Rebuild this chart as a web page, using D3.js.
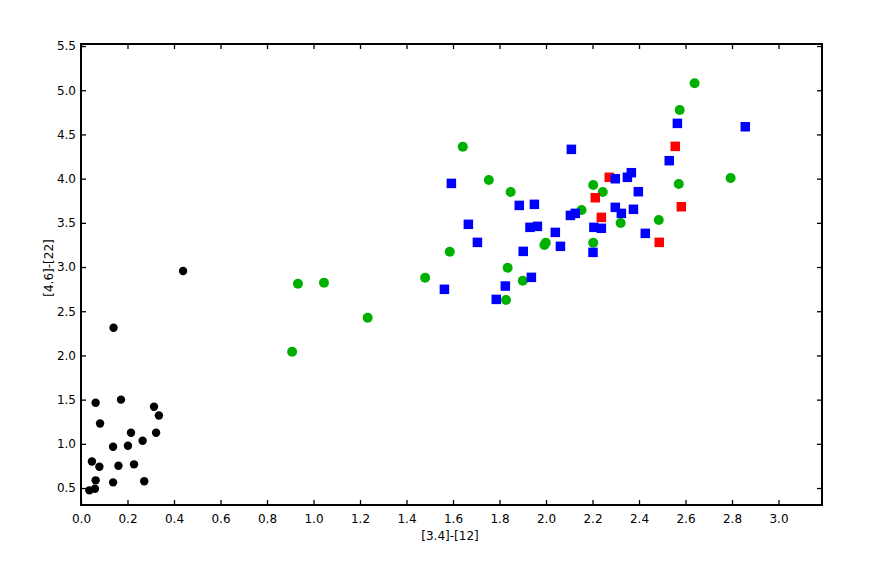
<!DOCTYPE html>
<html>
<head>
<meta charset="utf-8">
<script src="https://cdn.jsdelivr.net/npm/d3@7"></script>
<style>
  html, body { margin: 0; padding: 0; background: #fff; }
  svg text { font-family: "DejaVu Sans", sans-serif; }
</style>
</head>
<body>
<svg id="chart" width="872" height="586"></svg>
<script>
// ---- data ----
const blackX = [0.439,0.140,0.063,0.172,0.314,0.335,0.082,0.215,0.323,0.265,0.138,0.202,0.047,0.079,0.161,0.228,0.063,0.138,0.272,0.036,0.060];
const blackY = [2.955,2.313,1.465,1.500,1.420,1.320,1.230,1.126,1.126,1.035,0.967,0.979,0.800,0.740,0.752,0.768,0.587,0.564,0.576,0.474,0.492];

const greenX = [0.933,1.045,1.233,0.908,1.480,1.586,1.642,1.754,1.848,1.835,1.900,1.828,1.999,1.993,2.153,2.203,2.203,2.639,2.575,2.571,2.794,2.244,2.321,2.485];
const greenY = [2.811,2.822,2.427,2.042,2.879,3.173,4.361,3.984,3.848,2.992,2.845,2.627,3.275,3.249,3.645,3.928,3.275,5.078,4.776,3.939,4.007,3.848,3.498,3.532];

const blueX = [2.109,1.593,1.885,1.950,1.666,1.705,1.931,1.963,2.040,2.062,1.902,2.105,2.126,1.937,1.825,1.786,1.563,2.206,2.202,2.565,2.857,2.530,2.298,2.350,2.367,2.397,2.298,2.324,2.376,2.427,2.238];
const blueY = [4.331,3.946,3.697,3.709,3.483,3.279,3.449,3.460,3.392,3.234,3.177,3.584,3.607,2.883,2.785,2.634,2.748,3.449,3.166,4.625,4.587,4.203,3.999,4.015,4.067,3.852,3.675,3.607,3.653,3.381,3.438];

const redX = [2.556,2.272,2.212,2.582,2.238,2.487];
const redY = [4.365,4.015,3.784,3.682,3.562,3.279];

const xTicks = [0.0,0.2,0.4,0.6,0.8,1.0,1.2,1.4,1.6,1.8,2.0,2.2,2.4,2.6,2.8,3.0];
const yTicks = [0.5,1.0,1.5,2.0,2.5,3.0,3.5,4.0,4.5,5.0,5.5];
const xLabel = "[3.4]-[12]";
const yLabel = "[4.6]-[22]";

// ---- layout ----
const L = 81, R = 822, T = 44, B = 505;
const svg = d3.select("#chart");
const x = d3.scaleLinear().domain([0, 3.187]).range([L, R]);
const y = d3.scaleLinear().domain([0.308, 5.523]).range([B, T]);

const fmt = d3.format(".1f");

// axes
const gx = svg.append("g").attr("transform", `translate(0,${B})`)
  .call(d3.axisBottom(x).tickValues(xTicks).tickFormat(fmt).tickSizeInner(-5).tickSizeOuter(0).tickPadding(9));
const gy = svg.append("g").attr("transform", `translate(${L},0)`)
  .call(d3.axisLeft(y).tickValues(yTicks).tickFormat(fmt).tickSizeInner(-5).tickSizeOuter(0).tickPadding(5));
const gr = svg.append("g").attr("transform", `translate(${R},0)`)
  .call(d3.axisRight(y).tickValues(yTicks).tickFormat("").tickSizeInner(-5).tickSizeOuter(0));
const gt = svg.append("g").attr("transform", `translate(0,${T})`)
  .call(d3.axisTop(x).tickValues(xTicks).tickFormat("").tickSizeInner(-5).tickSizeOuter(0));

[gx, gy, gr, gt].forEach(g => {
  g.select(".domain").remove();
  g.selectAll(".tick line").attr("stroke", "#000").attr("stroke-width", 1.3);
  g.selectAll(".tick text").attr("font-size", 12).attr("fill", "#000")
    .attr("font-family", "DejaVu Sans, sans-serif");
});

// points
const plot = svg.append("g");
plot.selectAll("circle.black").data(d3.zip(blackX, blackY)).join("circle")
  .attr("class", "black").attr("cx", d => x(d[0])).attr("cy", d => y(d[1]))
  .attr("r", 4.2).attr("fill", "#000");

plot.selectAll("circle.green").data(d3.zip(greenX, greenY)).join("circle")
  .attr("class", "green").attr("cx", d => x(d[0])).attr("cy", d => y(d[1]))
  .attr("r", 5).attr("fill", "#00b000");

const S = 9.5;
plot.selectAll("rect.red").data(d3.zip(redX, redY)).join("rect")
  .attr("class", "red").attr("x", d => x(d[0]) - S/2).attr("y", d => y(d[1]) - S/2)
  .attr("width", S).attr("height", S).attr("fill", "#ff0000");

plot.selectAll("rect.blue").data(d3.zip(blueX, blueY)).join("rect")
  .attr("class", "blue").attr("x", d => x(d[0]) - S/2).attr("y", d => y(d[1]) - S/2)
  .attr("width", S).attr("height", S).attr("fill", "#0000ff");

// frame
svg.append("rect").attr("x", L).attr("y", T).attr("width", R - L).attr("height", B - T)
  .attr("fill", "none").attr("stroke", "#000").attr("stroke-width", 2);

// labels
svg.append("text").attr("x", 450).attr("y", 540).attr("text-anchor", "middle")
  .attr("font-size", 12).text(xLabel);
svg.append("text").attr("transform", "translate(53,268) rotate(-90)")
  .attr("text-anchor", "middle").attr("font-size", 12).text(yLabel);
</script>
</body>
</html>
